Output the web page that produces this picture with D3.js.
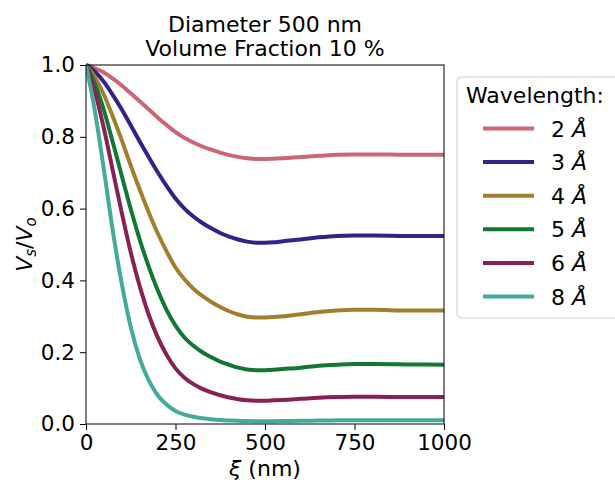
<!DOCTYPE html>
<html>
<head>
<meta charset="utf-8">
<script src="https://cdn.jsdelivr.net/npm/d3@7"></script>
<style>
  body { margin: 0; background: #fff; }
  svg text { font-family: "DejaVu Sans", sans-serif; fill: #000; }
</style>
</head>
<body>
<div id="chart"></div>
<script>
// values
const xi = [0, 25, 50, 75, 100, 125, 150, 175, 200, 225, 250, 275, 300, 325, 350, 375, 400, 425, 450, 475, 500,
            525, 550, 600, 650, 700, 750, 800, 900, 1000];

const wl2 = [1.000, 0.991, 0.979, 0.962, 0.943, 0.921, 0.899, 0.877, 0.854, 0.833, 0.813, 0.797, 0.784, 0.773, 0.764,
             0.756, 0.749, 0.744, 0.740, 0.738, 0.738, 0.739, 0.740, 0.744, 0.747, 0.750, 0.751, 0.751, 0.750, 0.750];
const wl3 = [1.000, 0.981, 0.953, 0.916, 0.876, 0.832, 0.787, 0.744, 0.702, 0.663, 0.628, 0.600, 0.578, 0.560, 0.545,
             0.532, 0.522, 0.514, 0.508, 0.505, 0.505, 0.506, 0.509, 0.514, 0.520, 0.524, 0.525, 0.525, 0.524, 0.524];
const wl4 = [1.000, 0.966, 0.917, 0.856, 0.790, 0.720, 0.653, 0.590, 0.532, 0.481, 0.436, 0.403, 0.377, 0.357, 0.340,
             0.326, 0.314, 0.305, 0.299, 0.297, 0.297, 0.298, 0.300, 0.306, 0.312, 0.316, 0.318, 0.318, 0.316, 0.316];
const wl5 = [1.000, 0.947, 0.874, 0.784, 0.691, 0.599, 0.514, 0.439, 0.373, 0.318, 0.274, 0.241, 0.218, 0.200, 0.186,
             0.174, 0.165, 0.157, 0.152, 0.150, 0.150, 0.151, 0.153, 0.157, 0.162, 0.165, 0.167, 0.167, 0.166, 0.165];
const wl6 = [1.000, 0.925, 0.823, 0.705, 0.588, 0.478, 0.384, 0.305, 0.242, 0.193, 0.155, 0.129, 0.111, 0.098, 0.088,
             0.080, 0.074, 0.069, 0.066, 0.065, 0.065, 0.066, 0.067, 0.070, 0.073, 0.075, 0.076, 0.076, 0.075, 0.075];
const wl8 = [1.000, 0.871, 0.708, 0.537, 0.390, 0.270, 0.182, 0.122, 0.080, 0.054, 0.036, 0.026, 0.020, 0.016, 0.013,
             0.011, 0.0098, 0.0088, 0.0081, 0.0078, 0.0078, 0.0079, 0.0082, 0.0088, 0.0095, 0.0101, 0.0102, 0.0102, 0.0101, 0.0101];

const wavelengths = ["2", "3", "4", "5", "6", "8"];
const colors = ["#CC6677", "#332288", "#A27F2E", "#117733", "#882255", "#44AA99"];
const xTicks = [0, 250, 500, 750, 1000];
const yTicks = [0, 0.2, 0.4, 0.6, 0.8, 1.0];

const series = [wl2, wl3, wl4, wl5, wl6, wl8].map((vals, i) => ({
    label: wavelengths[i],
    color: colors[i],
    points: xi.map((x, j) => ({ x: x, y: vals[j] }))
}));

const W = 615, H = 483;
const plot = { left: 86, right: 444, top: 65, bottom: 424 };

const svg = d3.select("#chart").append("svg")
    .attr("width", W)
    .attr("height", H);

const x = d3.scaleLinear().domain([0, 1000]).range([plot.left, plot.right]);
const y = d3.scaleLinear().domain([0, 1]).range([plot.bottom, plot.top]);

// clip lines to axes area
svg.append("clipPath").attr("id", "clip")
    .append("rect")
    .attr("x", plot.left).attr("y", plot.top - 3)
    .attr("width", plot.right - plot.left).attr("height", plot.bottom - plot.top + 6);

const line = d3.line()
    .x(d => x(d.x))
    .y(d => y(d.y))
    .curve(d3.curveMonotoneX);

svg.append("g")
    .attr("clip-path", "url(#clip)")
    .selectAll("path")
    .data(series)
    .join("path")
    .attr("fill", "none")
    .attr("stroke", d => d.color)
    .attr("stroke-width", 4)
    .attr("stroke-linejoin", "round")
    .attr("d", d => line(d.points));

// axes
const xAxis = svg.append("g")
    .attr("transform", `translate(0,${plot.bottom})`)
    .call(d3.axisBottom(x).tickValues(xTicks).tickFormat(d3.format("d")).tickSize(6).tickPadding(5));

const yAxis = svg.append("g")
    .attr("transform", `translate(${plot.left},0)`)
    .call(d3.axisLeft(y).tickValues(yTicks).tickFormat(d3.format(".1f")).tickSize(6).tickPadding(5));

[xAxis, yAxis].forEach(g => {
    g.select(".domain").remove();
    g.selectAll(".tick line").attr("stroke", "#000").attr("stroke-width", 1);
    g.selectAll(".tick text")
        .style("font-family", "DejaVu Sans")
        .style("font-size", "21.5px");
});

// frame
svg.append("rect")
    .attr("x", plot.left).attr("y", plot.top)
    .attr("width", plot.right - plot.left)
    .attr("height", plot.bottom - plot.top)
    .attr("fill", "none")
    .attr("stroke", "#000")
    .attr("stroke-width", 1);

// title
svg.append("text")
    .attr("x", (plot.left + plot.right) / 2).attr("y", 32)
    .attr("text-anchor", "middle")
    .style("font-size", "22px")
    .text("Diameter 500 nm");
svg.append("text")
    .attr("x", (plot.left + plot.right) / 2).attr("y", 56)
    .attr("text-anchor", "middle")
    .style("font-size", "22px")
    .text("Volume Fraction 10 %");

// x label
const xl = svg.append("text")
    .attr("x", (plot.left + plot.right) / 2).attr("y", 476)
    .attr("text-anchor", "middle")
    .style("font-size", "22px");
xl.append("tspan").style("font-style", "italic").text("ξ");
xl.append("tspan").text(" (nm)");

// y label  V_s / V_o
const yl = svg.append("text")
    .attr("transform", `translate(32,${(plot.top + plot.bottom) / 2}) rotate(-90)`)
    .attr("text-anchor", "middle")
    .style("font-size", "22px");
yl.append("tspan").style("font-style", "italic").text("V");
yl.append("tspan").attr("dy", 4).style("font-size", "15px").style("font-style", "italic").text("s");
yl.append("tspan").attr("dy", -4).text("/");
yl.append("tspan").style("font-style", "italic").text("V");
yl.append("tspan").attr("dy", 4).style("font-size", "15px").style("font-style", "italic").text("o");

// legend
const legend = svg.append("g");
legend.append("rect")
    .attr("x", 457).attr("y", 77)
    .attr("width", 170).attr("height", 241)
    .attr("rx", 4)
    .attr("fill", "#fff")
    .attr("fill-opacity", 0.8)
    .attr("stroke", "#d0d0d0")
    .attr("stroke-width", 1);

legend.append("text")
    .attr("x", 466).attr("y", 103)
    .style("font-size", "22px")
    .text("Wavelength:");

const rows = legend.selectAll("g.row")
    .data(series)
    .join("g")
    .attr("class", "row")
    .attr("transform", (d, i) => `translate(0,${128.5 + i * 33.6})`);

rows.append("line")
    .attr("x1", 483).attr("x2", 534)
    .attr("y1", 0).attr("y2", 0)
    .attr("stroke", d => d.color)
    .attr("stroke-width", 4);

const rowText = rows.append("text")
    .attr("x", 551).attr("y", 8)
    .style("font-size", "22px");
rowText.append("tspan").text(d => d.label + " ");
rowText.append("tspan").style("font-style", "italic").text("Å");
</script>
</body>
</html>
